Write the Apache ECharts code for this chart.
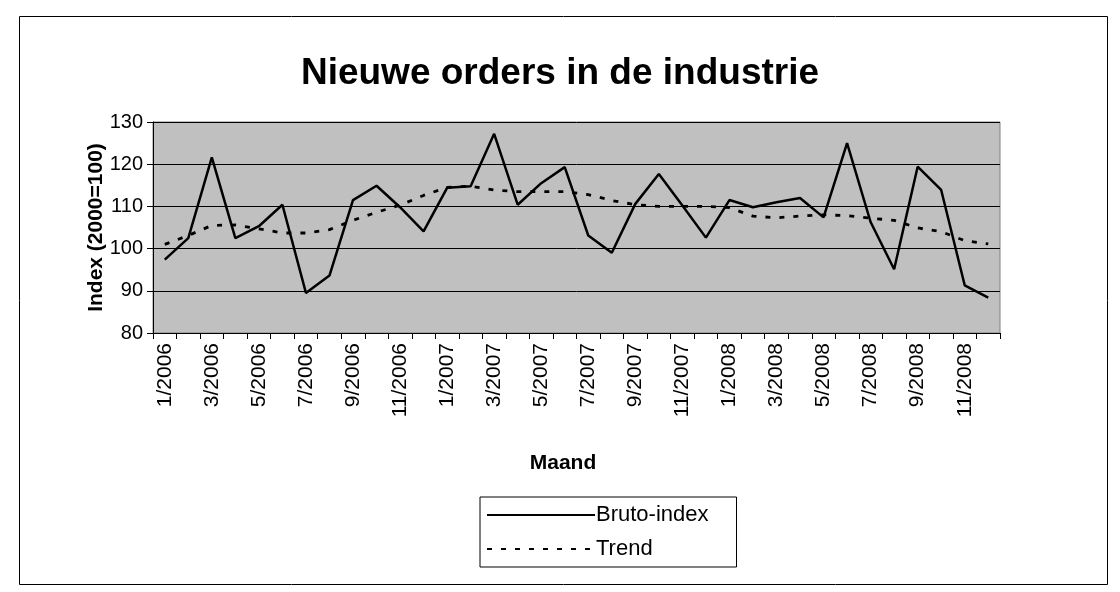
<!DOCTYPE html>
<html>
<head>
<meta charset="utf-8">
<script src="https://cdn.jsdelivr.net/npm/echarts@6/dist/echarts.min.js"></script>
<style>
html,body{margin:0;padding:0;background:#fff;}
#c{width:1120px;height:592px;}
</style>
</head>
<body>
<div id="c"></div>
<script>
var months = ['1/2006','2/2006','3/2006','4/2006','5/2006','6/2006','7/2006','8/2006','9/2006','10/2006','11/2006','12/2006',
              '1/2007','2/2007','3/2007','4/2007','5/2007','6/2007','7/2007','8/2007','9/2007','10/2007','11/2007','12/2007',
              '1/2008','2/2008','3/2008','4/2008','5/2008','6/2008','7/2008','8/2008','9/2008','10/2008','11/2008','12/2008'];
var bruto = [97.4, 102.5, 121.6, 102.5, 105.3, 110.4, 89.5, 93.6, 111.5, 114.9, 109.8, 104.1,
             114.4, 114.8, 127.2, 110.4, 115.5, 119.3, 103.1, 99.0, 110.6, 117.7, 110.2, 102.6,
             111.5, 109.8, 111.0, 112.0, 107.4, 125.0, 106.3, 95.1, 119.4, 113.9, 91.3, 88.4];
var trend = [101.0, 103.1, 105.5, 105.6, 104.7, 103.7, 103.7, 104.5, 106.7, 108.6, 110.3, 112.6,
             114.5, 114.8, 113.9, 113.5, 113.5, 113.5, 112.8, 111.4, 110.4, 110.0, 110.0, 110.0,
             109.7, 107.7, 107.3, 107.7, 108.0, 107.8, 107.2, 106.7, 104.9, 104.0, 101.9, 101.1];
var yTicks = [80, 90, 100, 110, 120, 130];

var FONT = 'Liberation Sans, Arial, sans-serif';
var chart = echarts.init(document.getElementById('c'), null, {renderer: 'canvas'});
chart.setOption({
  animation: false,
  backgroundColor: '#ffffff',
  textStyle: {fontFamily: FONT, color: '#000'},
  graphic: [{
    type: 'rect', left: 17, top: 14, z: -1,
    shape: {width: 1088, height: 568},
    style: {fill: 'none', stroke: '#000', lineWidth: 1}
  }, {
    type: 'text', x: 563, y: 463,
    style: {text: 'Maand', fill: '#000', font: 'bold 21px ' + FONT, textAlign: 'center', textVerticalAlign: 'middle'}
  }],
  title: {
    text: 'Nieuwe orders in de industrie',
    left: 'center', top: 50,
    textStyle: {fontFamily: FONT, fontSize: 37, fontWeight: 'bold', color: '#000'}
  },
  grid: {
    left: 153, right: 120, top: 122, bottom: 259,
    show: true, backgroundColor: '#c0c0c0', borderColor: '#808080', borderWidth: 1
  },
  legend: {
    orient: 'vertical',
    left: 480, top: 497,
    data: ['Bruto-index', 'Trend'],
    itemWidth: 108, itemHeight: 14, itemGap: 12,
    padding: [7, 28, 7, 6],
    borderColor: '#000', borderWidth: 1,
    itemStyle: {opacity: 0},
    textStyle: {fontFamily: FONT, fontSize: 22, color: '#000', padding: [0, 0, 0, -4]}
  },
  xAxis: {
    type: 'category',
    data: months,
    boundaryGap: true,
    axisLine: {lineStyle: {color: '#000', width: 1}},
    axisTick: {show: true, interval: 0, length: 6, lineStyle: {color: '#000'}},
    axisLabel: {interval: 1, rotate: 90, fontFamily: FONT, fontSize: 21, color: '#000', margin: 10}
  },
  yAxis: {
    type: 'value', min: yTicks[0], max: yTicks[yTicks.length - 1], interval: 10,
    name: 'Index (2000=100)', nameLocation: 'middle', nameGap: 46, nameMoveOverlap: false,
    nameTextStyle: {fontFamily: FONT, fontSize: 21, fontWeight: 'bold', color: '#000'},
    axisLine: {show: true, lineStyle: {color: '#000', width: 1}},
    axisTick: {show: true, length: 6, inside: false, lineStyle: {color: '#000'}},
    axisLabel: {fontFamily: FONT, fontSize: 20, color: '#000', margin: 10},
    splitLine: {show: true, lineStyle: {color: '#000', width: 1}}
  },
  series: [{
    name: 'Bruto-index', type: 'line', data: bruto,
    symbol: 'none', showSymbol: false,
    lineStyle: {color: '#000', width: 2.5, type: 'solid'},
    itemStyle: {color: '#000'}
  }, {
    name: 'Trend', type: 'line', data: trend,
    symbol: 'none', showSymbol: false,
    lineStyle: {color: '#000', width: 2.8, type: [5, 9]},
    itemStyle: {color: '#000'}
  }]
});
</script>
</body>
</html>
